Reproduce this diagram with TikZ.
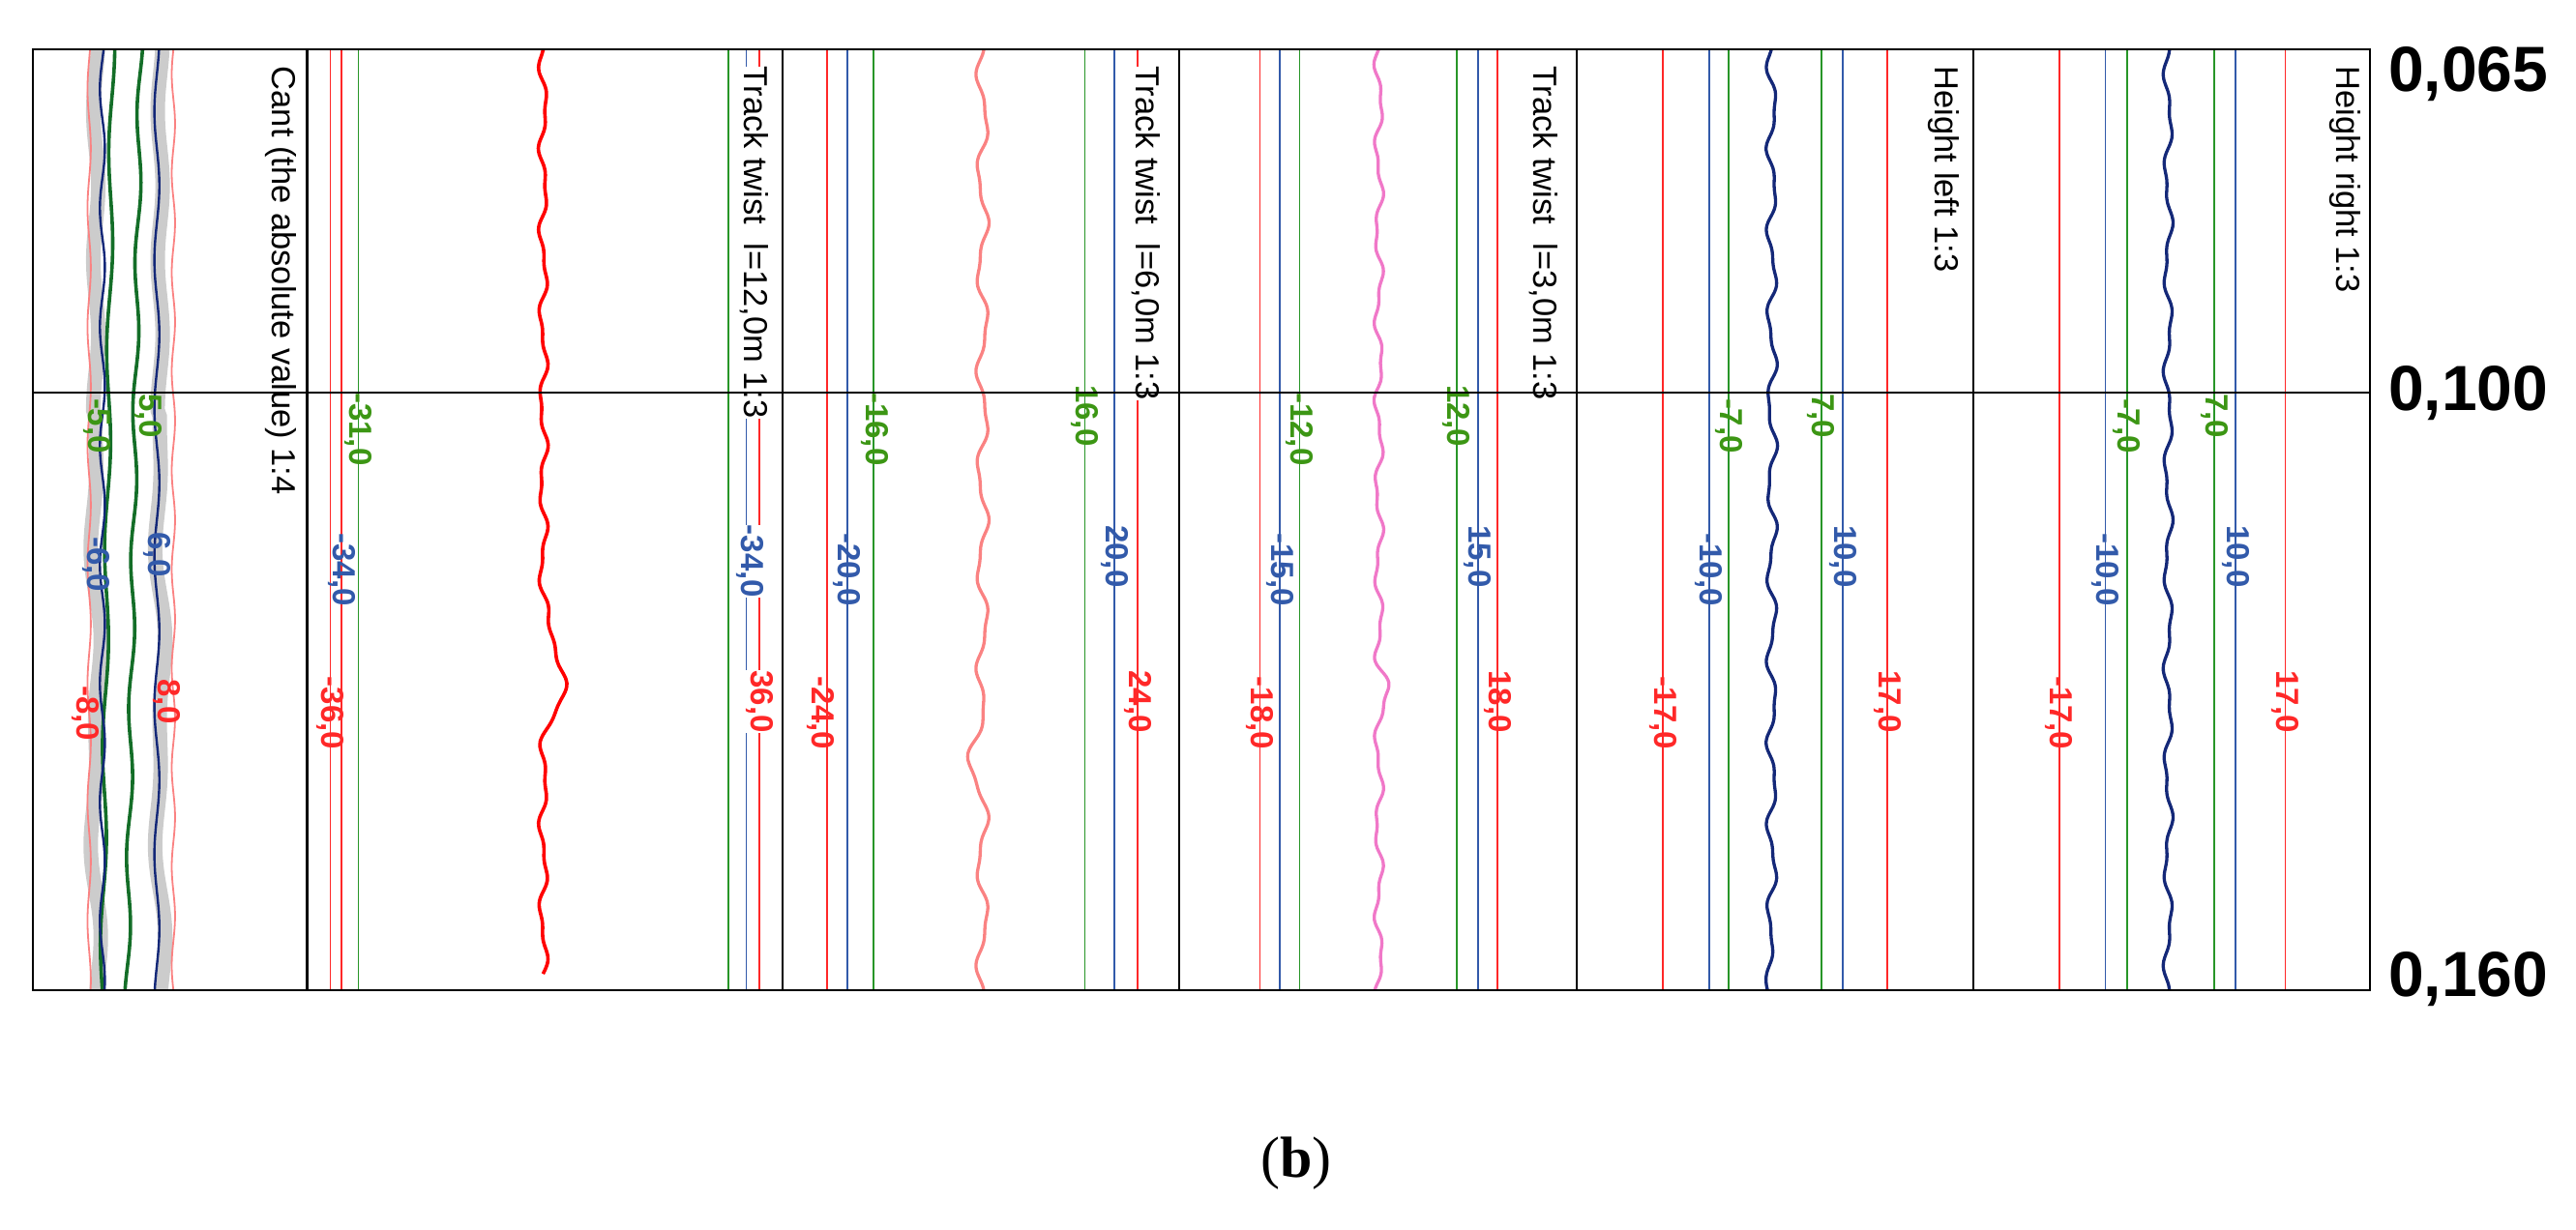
\documentclass[tikz,border=0pt]{standalone}
\usepackage{fontspec}
\setmainfont{Liberation Sans}
\newfontfamily\serifb{Liberation Serif}
\definecolor{lred}{RGB}{255,40,40}
\definecolor{lgreen}{RGB}{40,150,40}
\definecolor{lblue}{RGB}{50,90,170}
\definecolor{navy}{RGB}{20,40,120}
\definecolor{salmon}{RGB}{250,130,130}
\definecolor{pinkc}{RGB}{240,120,200}
\definecolor{dgreen}{RGB}{20,110,40}
\definecolor{tgreen}{RGB}{60,150,20}
\begin{document}
\begin{tikzpicture}[x=0.02cm,y=-0.02cm,
  vr/.style={lred,line width=0.6pt},
  vb/.style={lblue,line width=0.6pt},
  vg/.style={lgreen,line width=0.6pt},
  lab/.style={rotate=-90,font=\fontsize{11}{11}\selectfont\bfseries,inner sep=0pt},
  ttl/.style={rotate=-90,anchor=north west,font=\fontsize{11.5}{12}\selectfont,inner sep=0pt},
  axl/.style={anchor=west,font=\fontsize{22}{22}\selectfont\bfseries,inner sep=0pt},
  frame/.style={black,line width=0.7pt},
  crv/.style={samples=160,smooth,variable=\t}]
\useasboundingbox (0,0) rectangle (1560,745);
% panel 1 cant
\foreach \x in {58,97}{
 \draw[gray!40,line width=5pt] plot[crv,domain=30:600] ({\x+1.5*sin(\t*4)+(\t>250?2:0)*sin(\t*2)},\t);}
\draw[salmon,line width=0.6pt] plot[crv,domain=30:600] ({54+1*sin(\t*5)},\t);
\draw[salmon,line width=0.6pt] plot[crv,domain=30:600] ({105+1*sin(\t*6)},\t);
\draw[dgreen,line width=1.2pt] plot[crv,domain=30:600] ({85-8*(\t-30)/570+1.5*sin(\t*4)},\t);
\draw[dgreen,line width=1.2pt] plot[crv,domain=30:600] ({68-6*(\t-30)/570+1.5*sin(\t*3)},\t);
\draw[navy,line width=0.8pt] plot[crv,domain=30:600] ({62+1.5*sin(\t*5)},\t);
\draw[navy,line width=0.8pt] plot[crv,domain=30:600] ({95+1.5*sin(\t*4)},\t);
\node[lab,tgreen] (a1) at (59,258) {-5,0};
\node[lab,tgreen] (a2) at (90,252) {5,0};
\node[lab,lblue] (a3) at (58,342) {-6,0};
\node[lab,lblue] (a4) at (95,336) {6,0};
\node[lab,lred] (a5) at (52,432) {-8,0};
\node[lab,lred] (a6) at (101,425) {8,0};
\node[ttl] (t1) at (180,40) {Cant (the absolute value) 1:4};
% panel 2
\draw[vr] (200,30)--(200,600); \draw[vr] (207,30)--(207,600); \draw[vg] (217,30)--(217,600);
\draw[vg] (441,30)--(441,600); \draw[vb] (452,30)--(452,600); \draw[vr] (460,30)--(460,600);
\draw[red,line width=1.2pt] plot[crv,domain=30:590] ({329+2*sin(\t*7)+1*sin(\t*15)+13*exp(-min(((\t-410)/25)^2,50))},\t);
\node[lab,tgreen] (b1) at (217,260) {-31,0};
\node[lab,lblue] (b2) at (207,345) {-34,0};
\node[lab,lred] (b3) at (200,432) {-36,0};
\node[lab,lblue,fill=white] (b4) at (454,340) {-34,0};
\node[lab,lred,fill=white] (b5) at (460,425) {36,0};
\node[ttl,fill=white] (t2) at (466,40) {Track twist\ \ l=12,0m 1:3};
% panel 3
\draw[vr] (501,30)--(501,600); \draw[vb] (513,30)--(513,600); \draw[vg] (529,30)--(529,600);
\draw[vg] (657,30)--(657,600); \draw[vb] (675,30)--(675,600); \draw[vr] (689,30)--(689,600);
\draw[salmon,line width=1.1pt] plot[crv,domain=30:600] ({595+3*sin(\t*6)+1*sin(\t*14)-6*exp(-min(((\t-455)/20)^2,50))},\t);
\node[lab,tgreen] (c1) at (530,260) {-16,0};
\node[lab,lblue] (c2) at (513,345) {-20,0};
\node[lab,lred] (c3) at (497,432) {-24,0};
\node[lab,tgreen] (c4) at (657,252) {16,0};
\node[lab,lblue] (c5) at (675,337) {20,0};
\node[lab,lred] (c6) at (689,425) {24,0};
\node[ttl,fill=white] (t3) at (703,40) {Track twist\ \ l=6,0m 1:3};
% panel 4
\draw[vr] (763,30)--(763,600); \draw[vb] (775,30)--(775,600); \draw[vg] (787,30)--(787,600);
\draw[vg] (882,30)--(882,600); \draw[vb] (895,30)--(895,600); \draw[vr] (907,30)--(907,600);
\draw[pinkc,line width=1.1pt] plot[crv,domain=30:600] ({835+2*sin(\t*7)+1*sin(\t*16)+5*exp(-min(((\t-415)/10)^2,50))},\t);
\node[lab,tgreen] (d1) at (787,260) {-12,0};
\node[lab,lblue] (d2) at (775,345) {-15,0};
\node[lab,lred] (d3) at (763,432) {-18,0};
\node[lab,tgreen] (d4) at (882,252) {12,0};
\node[lab,lblue] (d5) at (895,337) {15,0};
\node[lab,lred] (d6) at (907,425) {18,0};
\node[ttl] (t4) at (944,40) {Track twist\ \ l=3,0m 1:3};
% panel 5
\draw[vr] (1007,30)--(1007,600); \draw[vb] (1035,30)--(1035,600); \draw[vg] (1047,30)--(1047,600);
\draw[vg] (1103,30)--(1103,600); \draw[vb] (1116,30)--(1116,600); \draw[vr] (1143,30)--(1143,600);
\draw[navy,line width=1.1pt] plot[crv,domain=30:600] ({1073+2.5*sin(\t*7)+1*sin(\t*15)-4*exp(-min(((\t-585)/10)^2,50))},\t);
\node[lab,tgreen] (e1) at (1047,258) {-7,0};
\node[lab,lblue] (e2) at (1035,345) {-10,0};
\node[lab,lred] (e3) at (1007,432) {-17,0};
\node[lab,tgreen] (e4) at (1103,252) {7,0};
\node[lab,lblue] (e5) at (1116,337) {10,0};
\node[lab,lred] (e6) at (1143,425) {17,0};
\node[ttl] (t5) at (1187,40) {Height left 1:3};
% panel 6
\draw[vr] (1247,30)--(1247,600); \draw[vb] (1275,30)--(1275,600); \draw[vg] (1288,30)--(1288,600);
\draw[vg] (1341,30)--(1341,600); \draw[vb] (1354,30)--(1354,600); \draw[vr] (1384,30)--(1384,600);
\draw[navy,line width=1.1pt] plot[crv,domain=30:600] ({1313+2*sin(\t*6)+1*sin(\t*14)},\t);
\node[lab,tgreen] (f1) at (1288,258) {-7,0};
\node[lab,lblue] (f2) at (1275,345) {-10,0};
\node[lab,lred] (f3) at (1247,432) {-17,0};
\node[lab,tgreen] (f4) at (1341,252) {7,0};
\node[lab,lblue] (f5) at (1354,337) {10,0};
\node[lab,lred] (f6) at (1384,425) {17,0};
\node[ttl] (t6) at (1430,40) {Height right 1:3};
% frame
\draw[frame] (20,30) rectangle (1435,600);
\draw[frame] (20,238)--(1435,238);
\foreach \x in {186,474,714,955,1195}{\draw[frame] (\x,30)--(\x,600);}
\node[axl] (y1) at (1446,45) {0,065};
\node[axl] (y2) at (1446,238) {0,100};
\node[axl] (y3) at (1446,593) {0,160};
\node[font=\serifb\fontsize{20}{20}\selectfont] (cap) at (785,705) {(\textbf{b})};
\end{tikzpicture}
\end{document}
